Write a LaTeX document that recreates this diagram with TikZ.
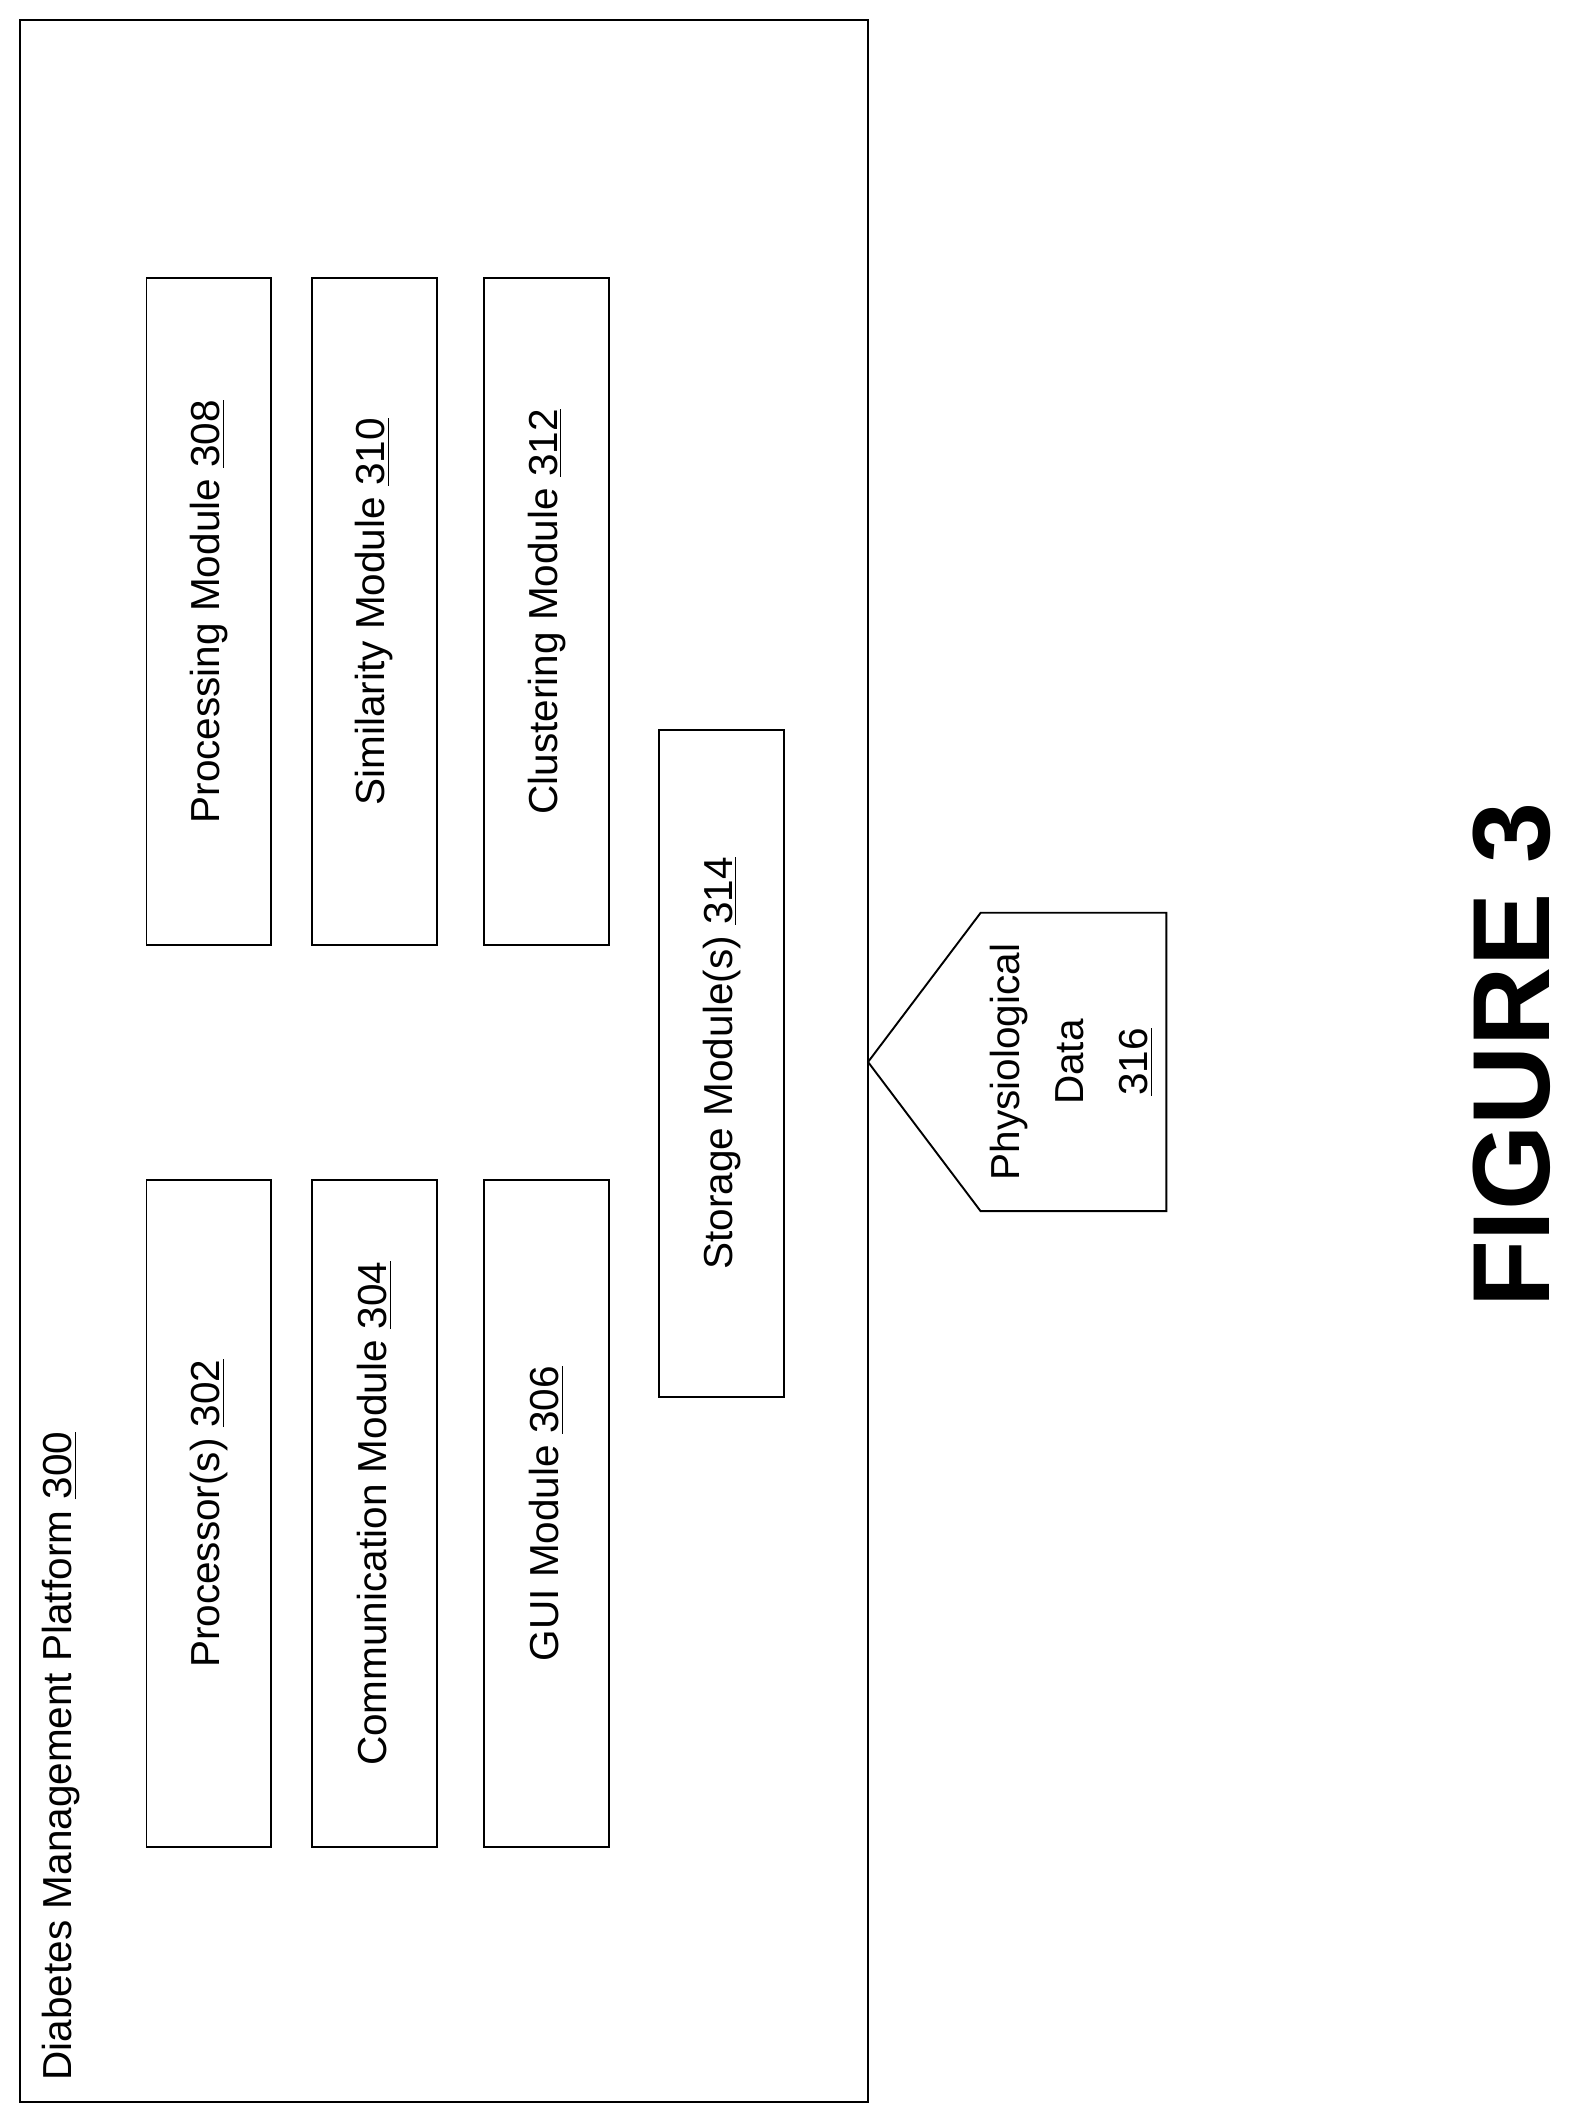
\documentclass[tikz,border=0pt]{standalone}
\usepackage{fontspec}
\setmainfont{Liberation Sans}
\begin{document}
\begin{tikzpicture}[x=0.02cm,y=0.02cm,
  module/.style={draw,thick,rotate=90,minimum width=9.84cm,minimum height=1.84cm,font=\fontsize{17}{20}\selectfont}]
  \useasboundingbox (0,0) rectangle (1160,1566);
  \draw[thick] (15,16) rectangle (640,1551);% platform
  \node[rotate=90,anchor=west,font=\fontsize{17}{20}\selectfont] (title) at (45,26) {Diabetes Management Platform \underline{300}};

  \node[module] (proc) at (154,450) {Processor(s) \underline{302}};
  \node[module] (comm) at (276,450) {Communication Module \underline{304}};
  \node[module] (gui) at (403,450) {GUI Module \underline{306}};
  \node[module] (procm) at (154,1115) {Processing Module \underline{308}};
  \node[module] (simm) at (276,1115) {Similarity Module \underline{310}};
  \node[module] (clus) at (403,1115) {Clustering Module \underline{312}};
  \node[module] (stor) at (532,782) {Storage Module(s) \underline{314}};

  \draw[thick] (640,783) -- (723,893) -- (860,893) -- (860,673) -- (723,673) -- cycle;% data
  \node[rotate=90,align=center,font=\fontsize{17}{27}\selectfont] (data) at (790,783) {Physiological\\Data\\\underline{316}};

  \node[rotate=90,font=\fontsize{46}{50}\selectfont\bfseries] (fig) at (1115,788) {FIGURE 3};
\end{tikzpicture}
\end{document}
